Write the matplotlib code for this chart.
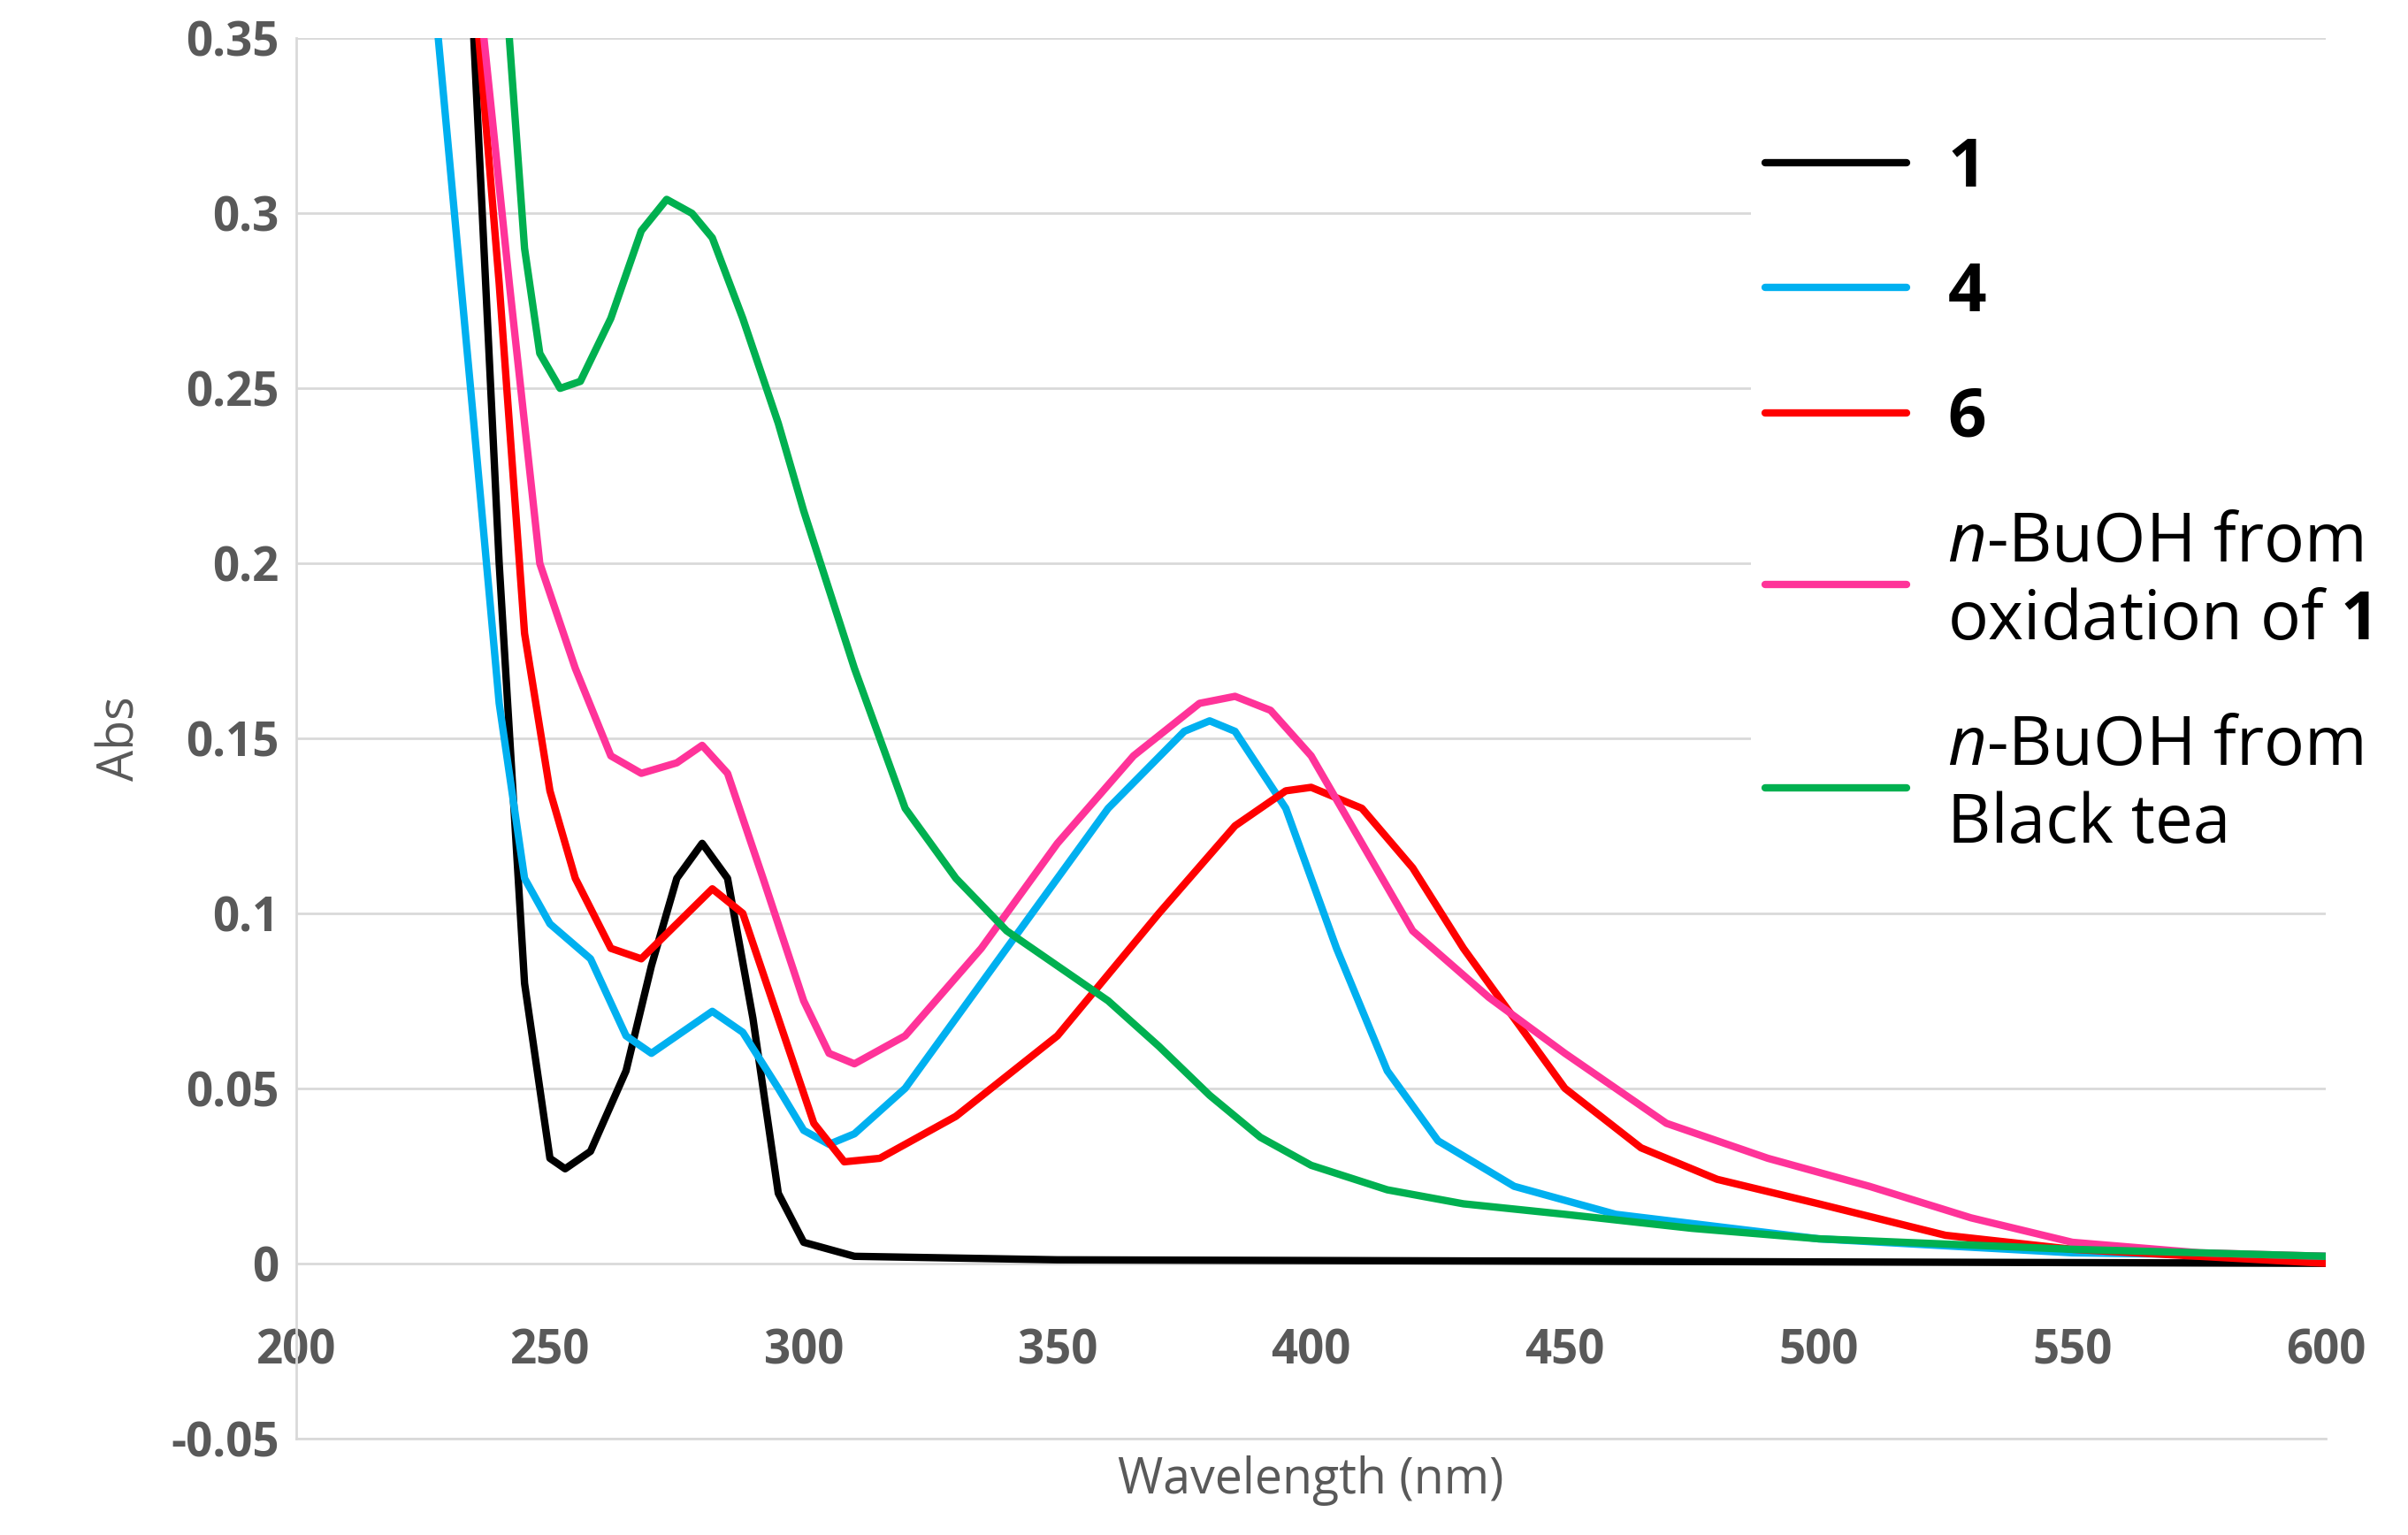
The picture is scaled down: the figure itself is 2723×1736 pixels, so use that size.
import matplotlib.pyplot as plt

plt.rcParams["font.family"] = ["Open Sans", "DejaVu Sans"]
plt.rcParams["mathtext.fontset"] = "custom"
plt.rcParams["mathtext.rm"] = "Open Sans"
plt.rcParams["mathtext.it"] = "Open Sans:italic"
plt.rcParams["mathtext.bf"] = "Open Sans:bold"

# ── Data ──────────────────────────────────────────────────────────────────────
wl_1 = [235, 240, 245, 250, 253, 258, 265, 270, 275, 280, 285, 290, 295, 300, 310, 350, 600]
abs_1 = [0.35, 0.2, 0.08, 0.03, 0.027, 0.032, 0.055, 0.085, 0.11, 0.12, 0.11, 0.07, 0.02, 0.006, 0.002, 0.001, 0.0]

wl_4 = [228, 235, 240, 245, 250, 258, 265, 270, 275, 282, 288, 295, 300, 305, 310, 320, 340, 360,
        375, 380, 385, 395, 405, 415, 425, 440, 460, 500, 550, 600]
abs_4 = [0.35, 0.24, 0.16, 0.11, 0.097, 0.087, 0.065, 0.06, 0.065, 0.072, 0.066, 0.05, 0.038, 0.034,
         0.037, 0.05, 0.09, 0.13, 0.152, 0.155, 0.152, 0.13, 0.09, 0.055, 0.035, 0.022, 0.014, 0.007, 0.003, 0.002]

wl_6 = [236, 240, 245, 250, 255, 262, 268, 275, 282, 288, 295, 302, 308, 315, 330, 350, 370, 385, 395,
        400, 410, 420, 430, 440, 450, 465, 480, 500, 525, 550, 575, 600]
abs_6 = [0.35, 0.28, 0.18, 0.135, 0.11, 0.09, 0.087, 0.097, 0.107, 0.1, 0.07, 0.04, 0.029, 0.03, 0.042,
         0.065, 0.1, 0.125, 0.135, 0.136, 0.13, 0.113, 0.09, 0.07, 0.05, 0.033, 0.024, 0.017, 0.008, 0.004, 0.002, 0.0]

wl_ox = [237, 242, 248, 255, 262, 268, 275, 280, 285, 292, 300, 305, 310, 320, 335, 350, 365, 378, 385,
         392, 400, 410, 420, 435, 450, 470, 490, 510, 530, 550, 575, 600]
abs_ox = [0.35, 0.28, 0.2, 0.17, 0.145, 0.14, 0.143, 0.148, 0.14, 0.11, 0.075, 0.06, 0.057, 0.065, 0.09,
          0.12, 0.145, 0.16, 0.162, 0.158, 0.145, 0.12, 0.095, 0.076, 0.06, 0.04, 0.03, 0.022, 0.013,
          0.006, 0.003, 0.002]

wl_tea = [242, 245, 248, 252, 256, 262, 268, 273, 278, 282, 288, 295, 300, 310, 320, 330, 340, 350, 360,
          370, 380, 390, 400, 415, 430, 450, 475, 500, 550, 600]
abs_tea = [0.35, 0.29, 0.26, 0.25, 0.252, 0.27, 0.295, 0.304, 0.3, 0.293, 0.27, 0.24, 0.215, 0.17, 0.13,
           0.11, 0.095, 0.085, 0.075, 0.062, 0.048, 0.036, 0.028, 0.021, 0.017, 0.014, 0.01, 0.007, 0.004, 0.002]

series = [
    (wl_1, abs_1, "#000000", r"$\bf{1}$"),
    (wl_4, abs_4, "#00B0F0", r"$\bf{4}$"),
    (wl_6, abs_6, "#FF0000", r"$\bf{6}$"),
    (wl_ox, abs_ox, "#FF3399", "$\\it{n}$-BuOH from\noxidation of $\\bf{1}$"),
    (wl_tea, abs_tea, "#00B050", "$\\it{n}$-BuOH from\nBlack tea"),
]

GRAY = "#595959"

fig = plt.figure(figsize=(27.23, 17.36), dpi=100)
ax = fig.add_axes([0.123, 0.063, 0.843, 0.912])

for x, y, c, lab in series:
    ax.plot(x, y, color=c, linewidth=6, label=lab,
            solid_joinstyle="round", solid_capstyle="round")

ax.set_xlim(200, 600)
ax.set_ylim(-0.05, 0.35)
ax.set_xticks(range(200, 601, 50))
ax.set_yticks([-0.05, 0, 0.05, 0.1, 0.15, 0.2, 0.25, 0.3, 0.35])
ax.set_yticklabels(["-0.05", "0", "0.05", "0.1", "0.15", "0.2", "0.25", "0.3", "0.35"])
ax.grid(axis="y", color="#D9D9D9", linewidth=2)
ax.set_axisbelow(True)
for s in ("top", "right"):
    ax.spines[s].set_visible(False)
for s in ("left", "bottom"):
    ax.spines[s].set_color("#D9D9D9")
    ax.spines[s].set_linewidth(2)
ax.tick_params(length=0, labelsize=38, labelcolor=GRAY)
ax.tick_params(axis="y", pad=14)
# x labels sit just under the zero line, Excel-style
ax.tick_params(axis="x", pad=-90)
for t in ax.get_xticklabels() + ax.get_yticklabels():
    t.set_fontweight("bold")
ax.set_xlabel("Wavelength (nm)", fontsize=40, color=GRAY)
ax.xaxis.set_label_coords(0.5, -0.012)
ax.set_ylabel("Abs", fontsize=40, color=GRAY, labelpad=20)

leg = ax.legend(loc="upper right", bbox_to_anchor=(1.045, 0.965), fontsize=55, frameon=True,
                facecolor="white", edgecolor="none", framealpha=1, handlelength=2.1,
                labelspacing=0.85, borderpad=0.2, handletextpad=0.6)
for t in leg.get_texts():
    t.set_color("black")

fig.savefig("out.png", dpi=100)
